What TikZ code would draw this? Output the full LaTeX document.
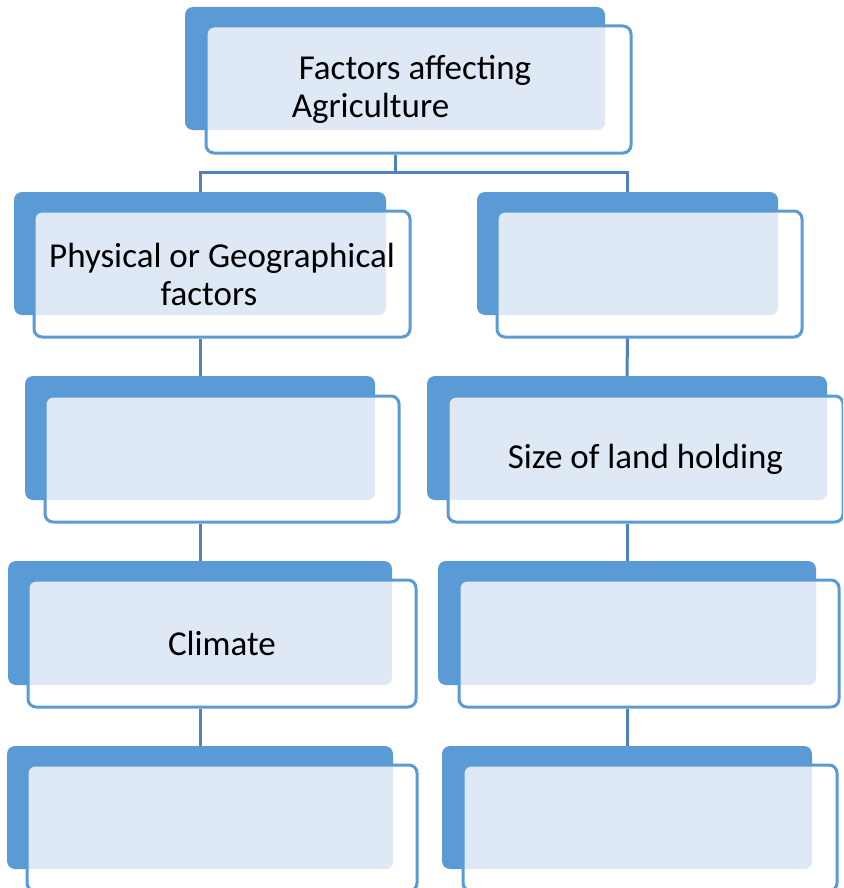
\documentclass[tikz,border=0pt]{standalone}
\usepackage{fontspec}
\setmainfont{Carlito}
\definecolor{boxblue}{HTML}{5B9BD5}
\definecolor{linkblue}{HTML}{4F81BD}
\definecolor{dotblue}{HTML}{DFE9F5}
\begin{document}
\begin{tikzpicture}[x=1pt, y=-1pt,
    back/.style={fill=boxblue, rounded corners=8pt, inner sep=0pt},
    front/.style={draw=boxblue, line width=3pt, fill=white, rounded corners=8pt, inner sep=0pt,
        align=center, font=\fontsize{35}{38}\selectfont,
        path picture={\fill[dotblue, rounded corners=8pt] (#1.south west) rectangle (#1.north east);}},
    link/.style={draw=linkblue, line width=3pt}]
    \useasboundingbox (0,0) rectangle (843,888);
    \clip (0,0) rectangle (843,888);
    % top
    \node[back, minimum width=420, minimum height=123] at (395,68.5) (b0) {};
    \node[front=b0, minimum width=425, minimum height=127, align=left] at (418.5,89.5) (f0) {\hspace{7pt}Factors affecting\hspace{14pt}\mbox{}\\Agriculture};
    % second row
    \node[back, minimum width=372, minimum height=123] at (200,253.5) (b21) {};
    \node[front=b21, minimum width=376, minimum height=126] at (222,274) (f21) {Physical or Geographical\\factors\hspace{26pt}\mbox{}};
    \node[back, minimum width=301, minimum height=123] at (627.5,253.5) (b22) {};
    \node[front=b22, minimum width=305, minimum height=126] at (649.5,274) (f22) {};
    % third row
    \node[back, minimum width=350, minimum height=124] at (200,438) (b31) {};
    \node[front=b31, minimum width=354, minimum height=126] at (222,459) (f31) {};
    \node[back, minimum width=400, minimum height=124] at (627,438) (b32) {};
    \node[front=b32, minimum width=395, minimum height=126] at (645.5,459) (f32) {Size of land holding};
    % fourth row
    \node[back, minimum width=384, minimum height=124] at (200,623) (b41) {};
    \node[front=b41, minimum width=388, minimum height=127] at (222,643.5) (f41) {Climate};
    \node[back, minimum width=378, minimum height=124] at (627,623) (b42) {};
    \node[front=b42, minimum width=380, minimum height=127] at (649,643.5) (f42) {};
    % fifth row
    \node[back, minimum width=386, minimum height=123] at (200,807.5) (b51) {};
    \node[front=b51, minimum width=390, minimum height=126] at (222,828) (f51) {};
    \node[back, minimum width=370, minimum height=123] at (627,807.5) (b52) {};
    \node[front=b52, minimum width=374, minimum height=126] at (650,828) (f52) {};
    % links
    \draw[link] (b0 |- f0.south) -- ++(0,18) coordinate (fork);
    \draw[link] (b21.north) |- (fork) -| (b22.north);
    \draw[link] (b21 |- f21.south) -- (b31.north);
    \draw[link] (b22 |- f22.south) -- (b32.north);
    \draw[link] (b31 |- f31.south) -- (b41.north);
    \draw[link] (b32 |- f32.south) -- (b42.north);
    \draw[link] (b41 |- f41.south) -- (b51.north);
    \draw[link] (b42 |- f42.south) -- (b52.north);
\end{tikzpicture}
\end{document}
